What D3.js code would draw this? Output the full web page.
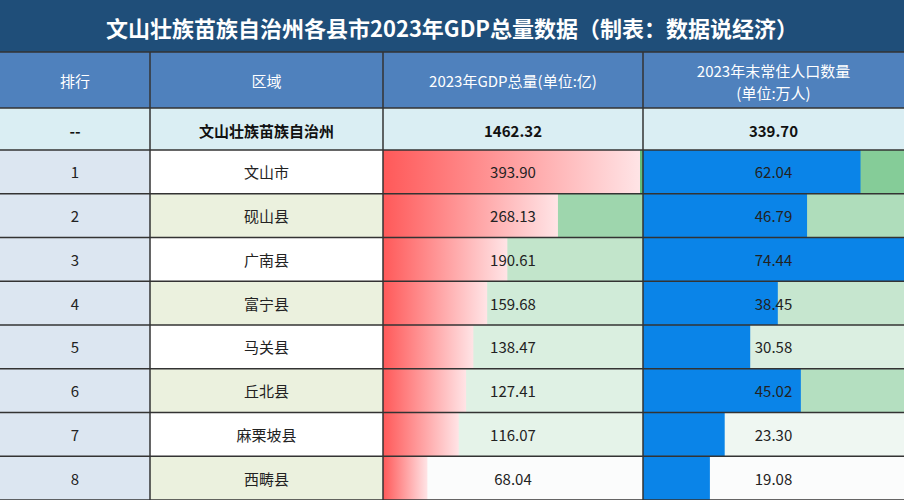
<!DOCTYPE html>
<html><head><meta charset="utf-8">
<script src="https://cdn.jsdelivr.net/npm/d3@7"></script>
<style>body{margin:0;background:#fff}text{font-family:"Noto Sans CJK SC","Noto Sans",sans-serif}</style>
</head><body><svg id="chart" width="904" height="500"></svg>
<script>
var title = '文山壮族苗族自治州各县市2023年GDP总量数据（制表：数据说经济）';
var headers = ['排行', '区域', '2023年GDP总量(单位:亿)', ['2023年末常住人口数量', '(单位:万人)']];
var total = ['--', '文山壮族苗族自治州', '1462.32', '339.70'];
var ranks = ['1', '2', '3', '4', '5', '6', '7', '8'];
var regions = ['文山市', '砚山县', '广南县', '富宁县', '马关县', '丘北县', '麻栗坡县', '西畴县'];
var gdp = [393.90, 268.13, 190.61, 159.68, 138.47, 127.41, 116.07, 68.04];
var pop = [62.04, 46.79, 74.44, 38.45, 30.58, 45.02, 23.30, 19.08];

var svg = d3.select('#chart');
var cols = [0, 150, 383, 643, 904];
var rowY = d3.scaleBand().domain(d3.range(regions.length)).range([150, 500]);

var defs = svg.append('defs');
var grad = defs.append('linearGradient').attr('id', 'redgrad');
grad.append('stop').attr('offset', '0%').attr('stop-color', '#ff5959');
grad.append('stop').attr('offset', '100%').attr('stop-color', '#ffe4e6');

// title
svg.append('rect').attr('x', 0).attr('y', 0).attr('width', 904).attr('height', 52).attr('fill', '#1f4e79');
svg.append('text').attr('x', 452).attr('y', 27).attr('text-anchor', 'middle').attr('dominant-baseline', 'central')
    .attr('fill', '#fff').attr('font-size', 22).attr('font-weight', 'bold').text(title);

// header
svg.append('rect').attr('x', 0).attr('y', 52).attr('width', 904).attr('height', 56).attr('fill', '#4f81bd');
headers.forEach(function(h, i) {
    var t = svg.append('text').attr('x', (cols[i] + cols[i+1]) / 2).attr('text-anchor', 'middle')
        .attr('fill', '#fff').attr('font-size', 15);
    if (Array.isArray(h)) {
        t.append('tspan').attr('x', (cols[i] + cols[i+1]) / 2).attr('y', 77).text(h[0]);
        t.append('tspan').attr('x', (cols[i] + cols[i+1]) / 2).attr('y', 99).text(h[1]);
    } else {
        t.attr('y', 80).attr('dominant-baseline', 'central').attr('y', 80).text(h);
    }
});

// total row
svg.append('rect').attr('x', 0).attr('y', 108).attr('width', 904).attr('height', 42).attr('fill', '#daeef3');
total.forEach(function(v, i) {
    svg.append('text').attr('x', (cols[i] + cols[i+1]) / 2).attr('y', 130).attr('text-anchor', 'middle')
        .attr('dominant-baseline', 'central').attr('font-size', 15).attr('font-weight', 'bold').attr('fill', '#111').text(v);
});

// rows
var gdpX = d3.scaleLinear().domain([0, d3.max(gdp)]).range([0, cols[3] - cols[2] - 3]);
var popX = d3.scaleLinear().domain([0, d3.max(pop)]).range([0, cols[4] - cols[3]]);
var gdpBg = d3.scaleLinear().domain(d3.extent(gdp)).range(['#fbfcfc', '#63be7b']);
var popBg = d3.scaleLinear().domain(d3.extent(pop)).range(['#fbfcfc', '#63be7b']);

var rows = svg.selectAll('g.row').data(regions).enter().append('g').attr('class', 'row')
    .attr('transform', function(d, i) { return 'translate(0,' + rowY(i) + ')'; });
var h = rowY.bandwidth();
rows.append('rect').attr('width', cols[1]).attr('height', h).attr('fill', '#dce6f1');
rows.append('rect').attr('x', cols[1]).attr('width', cols[2] - cols[1]).attr('height', h)
    .attr('fill', function(d, i) { return i % 2 ? '#ebf1de' : '#fff'; });
rows.append('rect').attr('x', cols[2]).attr('width', cols[3] - cols[2]).attr('height', h)
    .attr('fill', function(d, i) { return gdpBg(gdp[i]); });
rows.append('rect').attr('x', cols[2]).attr('width', function(d, i) { return gdpX(gdp[i]); }).attr('height', h)
    .attr('fill', 'url(#redgrad)');
rows.append('rect').attr('x', cols[3]).attr('width', cols[4] - cols[3]).attr('height', h)
    .attr('fill', function(d, i) { return popBg(pop[i]); });
rows.append('rect').attr('x', cols[3]).attr('width', function(d, i) { return popX(pop[i]); }).attr('height', h)
    .attr('fill', '#0a84e8');

function cell(ci, f) {
    rows.append('text').attr('x', (cols[ci] + cols[ci+1]) / 2).attr('y', h / 2).attr('text-anchor', 'middle')
        .attr('dominant-baseline', 'central').attr('font-size', 15).attr('fill', '#222').text(f);
}
cell(0, function(d, i) { return ranks[i]; });
cell(1, function(d) { return d; });
cell(2, function(d, i) { return gdp[i].toFixed(2); });
cell(3, function(d, i) { return pop[i].toFixed(2); });

// grid lines
var ys = [52, 108, 150].concat(d3.range(1, regions.length + 1).map(function(i) { return rowY(i - 1) + h; }));
svg.selectAll('line.h').data(ys).enter().append('line').attr('class', 'h')
    .attr('x1', 0).attr('x2', 904).attr('y1', function(d) { return d; }).attr('y2', function(d) { return d; })
    .attr('stroke', '#333').attr('stroke-width', 1.5);
svg.selectAll('line.v').data(cols.slice(1, 4)).enter().append('line').attr('class', 'v')
    .attr('x1', function(d) { return d; }).attr('x2', function(d) { return d; }).attr('y1', 52).attr('y2', 500)
    .attr('stroke', '#333').attr('stroke-width', 1.5);
</script>
</body></html>
